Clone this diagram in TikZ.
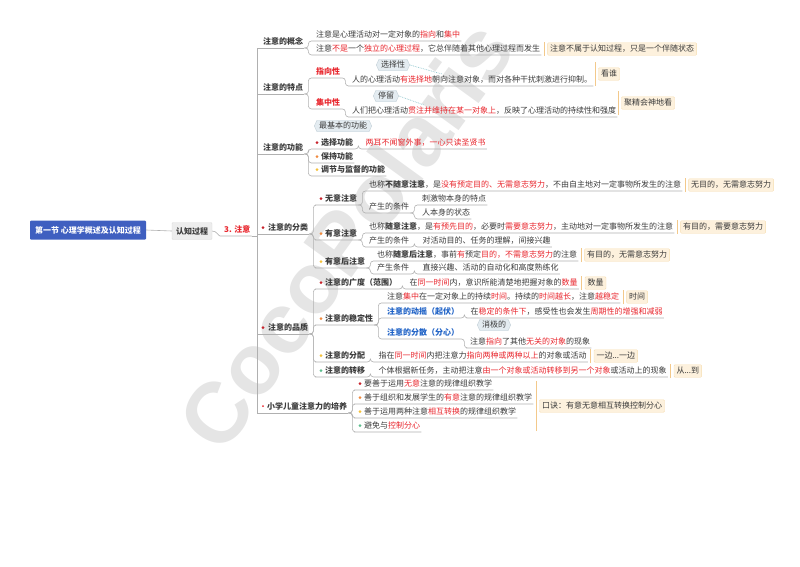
\documentclass[tikz,border=0pt]{standalone}
\usepackage{fontspec}
\setmainfont{Noto Sans CJK SC}
\newfontfamily\wmfont{Liberation Sans}
\usetikzlibrary{positioning, shapes.symbols}

\definecolor{hred}{HTML}{E8252C}
\definecolor{tblue}{HTML}{1F62C6}
\definecolor{tdark}{HTML}{3A3A3A}
\definecolor{linec}{HTML}{B0B0B0}
\definecolor{sumbg}{HTML}{FDF1DD}
\definecolor{sumbd}{HTML}{F6DDB0}
\definecolor{sumln}{HTML}{F3C98B}
\definecolor{calbg}{HTML}{E4ECF1}
\definecolor{calbd}{HTML}{C3D0D8}
\definecolor{calln}{HTML}{8CC4CC}
\definecolor{rootblue}{HTML}{3F5FC0}
\definecolor{dred}{HTML}{C8232C}
\definecolor{dorange}{HTML}{F08A3E}
\definecolor{dyellow}{HTML}{F4C13A}
\definecolor{dgreen}{HTML}{5DBE8E}

\newcommand{\rd}[1]{\textcolor{hred}{#1}}
\newcommand{\bdot}[2]{\fill[#2] ([xshift=3pt,yshift=0.4pt]#1.west) circle (1.5pt);}
\newcommand{\brc}[2]{\draw[conn] (#1.south east) -- ++(4,0) |- (#2.south west) -- (#2.south east);}
\newcommand{\spn}[1]{\draw[conn, sharp corners] (zy.south east) -- (zy.south east -| sp) |- (#1.south west) -- (#1.south east);}
\newcommand{\sumbr}[2]{\draw[sumline] ([shift={(-3pt,-#2pt)}]#1.west) -- ([shift={(-3pt,#2pt)}]#1.west);}

\begin{document}
\begin{tikzpicture}[x=1pt, y=-1pt,
  tp/.style={anchor=west, inner xsep=1pt, inner ysep=2pt, text height=6pt, text depth=1.5pt, text=tdark, font=\fontsize{8}{9}\selectfont},
  bt/.style={tp, font=\fontsize{8}{9}\selectfont\bfseries},
  conn/.style={draw=linec, line width=0.6pt, rounded corners=3pt},
  smbox/.style={draw=sumbd, fill=sumbg, rounded corners=1pt, inner xsep=2.5pt, inner ysep=2.5pt, text height=6pt, text depth=1.5pt, text=tdark, font=\fontsize{8}{9}\selectfont},
  sumline/.style={draw=sumln, line width=0.8pt},
  callout/.style={signal, signal to=east and west, signal pointer angle=130, draw=calbd, fill=calbg, inner xsep=2pt, inner ysep=2pt, text height=6pt, text depth=1.5pt, text=tdark, font=\fontsize{8}{9}\selectfont},
  calline/.style={draw=calln, densely dotted, line width=0.7pt},
  rootbox/.style={fill=rootblue, rounded corners=1pt, minimum width=116pt, minimum height=19pt, text=white, font=\fontsize{8}{9}\selectfont\bfseries},
  grbox/.style={fill=black!7, draw=black!14, rounded corners=1pt, minimum height=17pt, inner xsep=4pt, text=tdark, font=\fontsize{8}{9}\selectfont\bfseries}]

  \useasboundingbox (0,0) rectangle (800,566);

  % Watermark
  \node[rotate=54, text=black!10, font=\fontsize{86}{86}\selectfont\wmfont\bfseries] (wm) at (345,235) {CocoPolaris};

  % Root
  \node[rootbox] (rt) at (88,230) {第一节 心理学概述及认知过程};
  \node[grbox] (rz) at (192,231) {认知过程};
  \node[bt, text=hred] (zy) at (223,230) {3. 注意};
  \coordinate (sp) at (257,0);

  % Main branches
  \node[bt] (gn) at (262,42) {注意的概念};
  \node[bt] (td) at (262,88) {注意的特点};
  \node[bt] (gl) at (262,148) {注意的功能};
  \node[bt] (fl) at (260,228) {\hspace*{7pt}注意的分类};
  \node[bt] (pz) at (260,328) {\hspace*{7pt}注意的品质};
  \node[bt] (px) at (260,407) {\hspace*{6pt}小学儿童注意力的培养};

  % 注意的概念
  \node[tp] (gn1) at (315,35) {注意是心理活动对一定对象的\rd{指向}和\rd{集中}};
  \node[tp] (gn2) at (315,49) {注意\rd{不是}一个\rd{独立的心理过程}，它总伴随着其他心理过程而发生};
  \node[smbox, right=6pt of gn2] (s1) {注意不属于认知过程，只是一个伴随状态};

  % 注意的特点
  \node[bt, text=hred] (zx) at (315,72) {指向性};
  \node[callout] (c1) at (393,65) {选择性};
  \node[tp] (zx1) at (351,80) {人的心理活动\rd{有选择地}朝向注意对象，而对各种干扰刺激进行抑制。};
  \node[smbox] (s2) at (609,74) {看谁};
  \node[bt, text=hred] (zz) at (315,103) {集中性};
  \node[callout] (c2) at (386,96) {停留};
  \node[tp] (zz1) at (351,111) {人们把心理活动\rd{贯注并维持在某一对象上}，反映了心理活动的持续性和强度};
  \node[smbox] (s3) at (648,103) {聚精会神地看};

  % 注意的功能
  \node[callout] (c3) at (343,126) {最基本的功能};
  \node[bt] (xz) at (314,143) {\hspace*{6pt}选择功能};
  \node[tp, text=hred, right=10pt of xz] (xz1) {两耳不闻窗外事，一心只读圣贤书};
  \node[bt] (bc) at (314,157) {\hspace*{6pt}保持功能};
  \node[bt] (tj) at (314,170) {\hspace*{6pt}调节与监督的功能};

  % 注意的分类
  \node[bt] (wy) at (318,199) {\hspace*{6pt}无意注意};
  \node[tp] (wy1) at (368,185) {也称\textbf{不随意注意}，是\rd{没有预定目的、无需意志努力}，不由自主地对一定事物所发生的注意};
  \node[smbox, right=6pt of wy1] (s4) {无目的，无需意志努力};
  \node[tp] (wy2) at (368,207) {产生的条件};
  \node[tp] (wy21) at (421,199) {刺激物本身的特点};
  \node[tp] (wy22) at (421,213) {人本身的状态};
  \node[bt] (yy) at (318,234) {\hspace*{6pt}有意注意};
  \node[tp] (yy1) at (368,227) {也称\textbf{随意注意}，是\rd{有预先目的}，必要时\rd{需要意志努力}，主动地对一定事物所发生的注意};
  \node[smbox, right=6pt of yy1] (s5) {有目的，需要意志努力};
  \node[tp] (yy2) at (368,241) {产生的条件};
  \node[tp, right=11pt of yy2] (yy21) {对活动目的、任务的理解，间接兴趣};
  \node[bt] (yh) at (318,262) {\hspace*{6pt}有意后注意};
  \node[tp] (yh1) at (376,255) {也称\textbf{随意后注意}，事前\rd{有}预定\rd{目的，不需意志努力}的注意};
  \node[smbox, right=6pt of yh1] (s6) {有目的，无需意志努力};
  \node[tp] (yh2) at (376,268) {产生条件};
  \node[tp, right=11pt of yh2] (yh21) {直接兴趣、活动的自动化和高度熟练化};

  % 注意的品质
  \node[bt] (gd) at (318,283) {\hspace*{6pt}注意的广度（范围）};
  \node[tp, right=10pt of gd] (gd1) {在\rd{同一时间}内，意识所能清楚地把握对象的\rd{数量}};
  \node[smbox, right=6pt of gd1] (s7) {数量};
  \node[bt] (wd) at (318,319) {\hspace*{6pt}注意的稳定性};
  \node[tp] (wd1) at (386,297) {注意\rd{集中}在一定对象上的持续\rd{时间}。持续的\rd{时间越长}，注意\rd{越稳定}};
  \node[smbox, right=6pt of wd1] (s8) {时间};
  \node[bt, text=tblue] (wd2) at (386,312) {注意的动摇（起伏）};
  \node[tp, right=9pt of wd2] (wd21) {在\rd{稳定的条件下}，感受性也会发生\rd{周期性的增强和减弱}};
  \node[bt, text=tblue] (wd3) at (386,333) {注意的分散（分心）};
  \node[callout] (c4) at (494,325) {消极的};
  \node[tp] (wd31) at (469,342) {注意\rd{指向}了其他\rd{无关的对象}的现象};
  \node[bt] (fp) at (318,356) {\hspace*{6pt}注意的分配};
  \node[tp, right=11pt of fp] (fp1) {指在\rd{同一时间}内把注意力\rd{指向两种或两种以上}的对象或活动};
  \node[smbox, right=6pt of fp1] (s9) {一边...一边};
  \node[bt] (zyi) at (318,371) {\hspace*{6pt}注意的转移};
  \node[tp, right=11pt of zyi] (zyi1) {个体根据新任务，主动把注意\rd{由一个对象或活动转移到另一个对象}或活动上的现象};
  \node[smbox, right=6pt of zyi1] (s10) {从...到};

  % 小学儿童注意力的培养
  \node[tp] (p1) at (357,384) {\hspace*{6pt}要善于运用\rd{无意}注意的规律组织教学};
  \node[tp] (p2) at (357,398) {\hspace*{6pt}善于组织和发展学生的\rd{有意}注意的规律组织教学};
  \node[tp] (p3) at (357,412) {\hspace*{6pt}善于运用两种注意\rd{相互转换}的规律组织教学};
  \node[tp] (p4) at (357,426) {\hspace*{6pt}避免与\rd{控制分心}};
  \node[smbox] (s11) at (602,406) {口诀：有意无意相互转换控制分心};

  % Dots
  \bdot{fl}{dred} \bdot{pz}{dred}
  \fill[hred] ([xshift=3pt,yshift=1pt]px.west) circle (1pt);
  \bdot{xz}{dred} \bdot{bc}{dorange} \bdot{tj}{dyellow}
  \bdot{wy}{dred} \bdot{yy}{dorange} \bdot{yh}{dyellow}
  \bdot{gd}{dred} \bdot{wd}{dorange} \bdot{fp}{dyellow} \bdot{zyi}{dgreen}
  \bdot{p1}{dred} \bdot{p2}{dorange} \bdot{p3}{dyellow} \bdot{p4}{dgreen}

  % Root links
  \draw[conn] (rt.east) -- (rz.west);
  \draw[conn] (rz.east) to[out=0, in=180] (zy.south west) -- (zy.south east);
  \spn{gn} \spn{td} \spn{gl} \spn{fl} \spn{pz} \spn{px}

  % 注意的概念
  \brc{gn}{gn1} \brc{gn}{gn2}

  % 注意的特点
  \brc{td}{zx} \brc{td}{zz}
  \brc{zx}{zx1} \brc{zz}{zz1}
  \draw[calline] (c1.east) -- ([xshift=-30pt]zx1.north);
  \draw[calline] (c2.east) -- ([xshift=-60pt]zz1.north);

  % 注意的功能
  \brc{gl}{xz} \brc{gl}{bc} \brc{gl}{tj}
  \brc{xz}{xz1}

  % 注意的分类
  \brc{fl}{wy} \brc{fl}{yy} \brc{fl}{yh}
  \brc{wy}{wy1} \brc{wy}{wy2}
  \brc{wy2}{wy21} \brc{wy2}{wy22}
  \brc{yy}{yy1} \brc{yy}{yy2} \brc{yy2}{yy21}
  \brc{yh}{yh1} \brc{yh}{yh2} \brc{yh2}{yh21}

  % 注意的品质
  \brc{pz}{gd} \brc{pz}{wd} \brc{pz}{fp} \brc{pz}{zyi}
  \brc{gd}{gd1}
  \brc{wd}{wd1} \brc{wd}{wd2} \brc{wd}{wd3}
  \brc{wd2}{wd21} \brc{wd3}{wd31}
  \brc{fp}{fp1} \brc{zyi}{zyi1}

  % 小学儿童注意力的培养
  \brc{px}{p1} \brc{px}{p2} \brc{px}{p3} \brc{px}{p4}

  % Summaries
  \sumbr{s1}{7} \sumbr{s2}{12} \sumbr{s3}{12} \sumbr{s4}{7}
  \sumbr{s5}{7} \sumbr{s6}{7} \sumbr{s7}{7} \sumbr{s8}{7}
  \sumbr{s9}{7} \sumbr{s10}{7} \sumbr{s11}{25}

\end{tikzpicture}
\end{document}
